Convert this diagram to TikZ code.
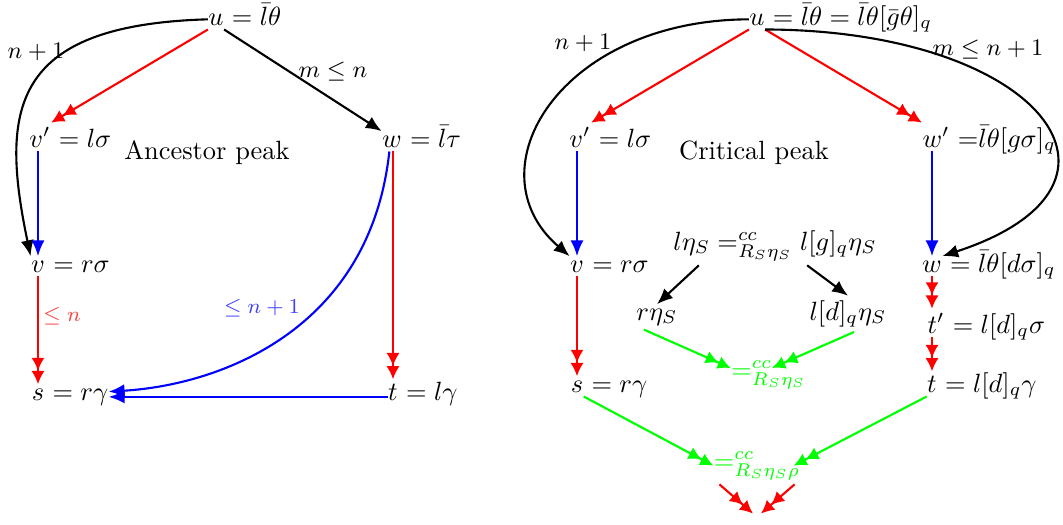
\documentclass[tikz,border=0pt]{standalone}
\usepackage{amsmath, amssymb}
\usepackage{xcolor}
\usepackage{tikz}
\usetikzlibrary{
  arrows.meta,
  calc,
}

\begin{document}
\begin{tikzpicture}[
    x=0.379pt, y=-0.379pt,
    V/.style={anchor=base, inner xsep=0pt, inner ysep=1.5pt},
    E/.style={anchor=base west, inner sep=0pt},
    lbl/.style={font=\small},
    clbl/.style={font=\footnotesize},
    one/.style={thick, -{Latex[length=6pt,width=5pt]}},
    two/.style={thick, -{Latex[length=5pt,width=5pt]Latex[length=5pt,width=5pt]}},
  ]
  \useasboundingbox (0,0) rectangle (1063,525);

  % ancestor peak
  \node[V] (u1) at (216,25) {$u$};
  \node[E] (u1e) at (u1.base east) {${}=\bar{l}\theta$};
  \node[V] (vp1) at (40,147) {$v'$};
  \node[E] (vp1e) at (vp1.base east) {${}=l\sigma$};
  \node[V] (w1) at (392,147) {$w$};
  \node[E] (w1e) at (w1.base east) {${}=\bar{l}\tau$};
  \node[V] (v1) at (38,272) {$v$};
  \node[E] (v1e) at (v1.base east) {${}=r\sigma$};
  \node[V] (s1) at (38,400) {$s$};
  \node[E] (s1e) at (s1.base east) {${}=r\gamma$};
  \node[V] (t1) at (393,400) {$t$};
  \node[E] (t1e) at (t1.base east) {${}=l\gamma$};
  \node (title1) at (207,153) {Ancestor peak};

  \node[lbl] (n1a) at (36,52) {$n+1$};
  \node[lbl] (mna) at (333,72) {$m\leq n$};
  \node[clbl, text=red!75] (lena) at (62,316) {$\leq n$};
  \node[clbl, text=blue!75] (lenb) at (262,308) {$\leq n+1$};

  \draw[two, red] (u1.south west) -- (vp1.north east);
  \draw[one] (u1.south east) -- (w1.north west);
  \draw[one] (u1.west) .. controls (10,25) and (0,110) .. (v1.north west);
  \draw[one, blue] (v1.north |- vp1.south) -- (v1.north);
  \draw[two, red] (v1.south) -- (s1.north);
  \draw[two, red] (t1.north |- w1.south) -- (t1.north);
  \draw[one, blue] ([xshift=-1pt]w1.south) .. controls (370,330) and (220,385) .. ([yshift=2pt]s1e.east);
  \draw[one, blue] (s1e.east -| t1.west) -- (s1e.east);

  % critical peak
  \node[V] (u2) at (757,25) {$u$};
  \node[E] (u2e) at (u2.base east) {${}=\bar{l}\theta=\bar{l}\theta[\bar{g}\theta]_q$};
  \node[V] (vp2) at (580,147) {$v'$};
  \node[E] (vp2e) at (vp2.base east) {${}=l\sigma$};
  \node[V] (wp2) at (936,147) {$w'$};
  \node[E] (wp2e) at (wp2.base east) {${}=\mskip-5mu\bar{l}\theta[g\sigma]_q$};
  \node[V] (v2) at (577,272) {$v$};
  \node[E] (v2e) at (v2.base east) {${}=r\sigma$};
  \node[V] (w2) at (932,272) {$w$};
  \node[E] (w2e) at (w2.base east) {${}=\bar{l}\theta[d\sigma]_q$};
  \node[V] (tp2) at (936,333) {$t'$};
  \node[E] (tp2e) at (tp2.base east) {${}=l[d]_q\sigma$};
  \node[V] (s2) at (577,392) {$s$};
  \node[E] (s2e) at (s2.base east) {${}=r\gamma$};
  \node[V] (t2) at (932,392) {$t$};
  \node[E] (t2e) at (t2.base east) {${}=l[d]_q\gamma$};
  \node (title2) at (754,153) {Critical peak};

  \node[V] (pk) at (775,250) {$l\eta_S =^{cc}_{R_S\eta_S} l[g]_q\eta_S$};
  \node[V] (rS) at (657,320) {$r\eta_S$};
  \node[V] (ldS) at (848,320) {$l[d]_q\eta_S$};
  \node[V, text=green] (g1) at (769,378) {$=^{cc}_{R_S\eta_S}$};
  \node[V, text=green] (g2) at (757,469) {$=^{cc}_{R_S\eta_S\rho}$};
  \coordinate (bot) at (757,517);

  \node[lbl] (n1b) at (583,43) {$n+1$};
  \node[lbl] (mnb) at (988,50) {$m\leq n+1$};

  \draw[two, red] (u2.south west) -- (vp2.north east);
  \draw[two, red] (u2.south east) -- (wp2.north west);
  \draw[one] (u2.west) .. controls (560,20) and (470,170) .. (v2.north west);
  \draw[one] (u2.south east) .. controls (1040,30) and (1160,185) .. (w2.north east);
  \draw[one, blue] (v2.north |- vp2.south) -- (v2.north);
  \draw[one, blue] (w2.north |- wp2.south) -- (w2.north);
  \draw[two, red] (v2.south) -- (s2.north);
  \draw[two, red] (w2.south) -- (w2.south |- tp2.north);
  \draw[two, red] (t2.north |- tp2.south) -- (t2.north);

  \draw[one] ($(pk.south west)+(26,0)$) -- (rS.north);
  \draw[one] ($(pk.south east)+(-70,0)$) -- (ldS.north);
  \draw[two, green] ($(rS.south west)+(8,0)$) -- ([yshift=2.5pt]g1.west);
  \draw[two, green] ($(ldS.south)+(6,0)$) -- ($(g1.north)+(3,12)$);
  \draw[two, green] (s2.south east) -- (g2.west);
  \draw[two, green] (t2.south west) -- ($(g2.east)+(-7,0)$);
  \draw[two, red, shorten >=2pt] ($(g2.south west)+(6,0)$) -- (bot);
  \draw[two, red, shorten >=2pt] ($(g2.south east)+(-6,0)$) -- (bot);
\end{tikzpicture}
\end{document}
